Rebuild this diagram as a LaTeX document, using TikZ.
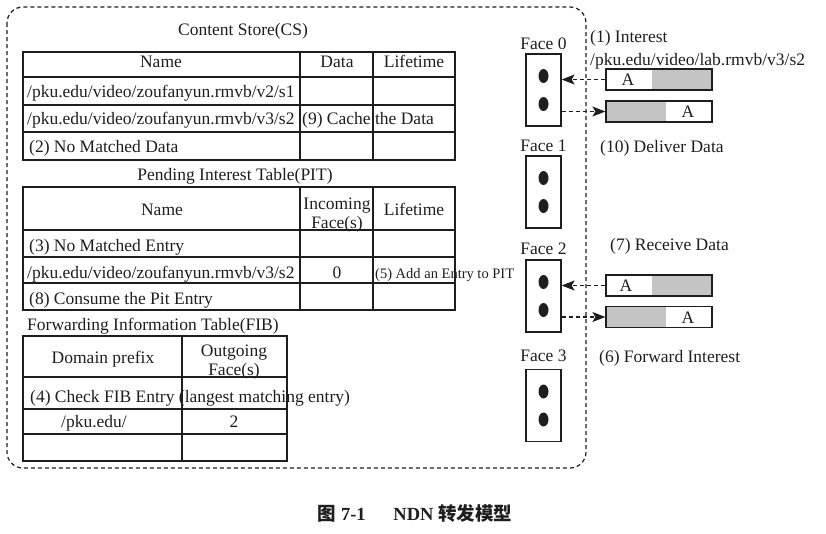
\documentclass[tikz,border=0pt]{standalone}
\usepackage{fontspec}
\setmainfont{Liberation Serif}
\newfontfamily\cjk{Noto Sans CJK SC}
\usetikzlibrary{positioning, shapes.geometric, arrows.meta}

\definecolor{ink}{HTML}{1E1E1E}
\definecolor{pktgray}{HTML}{C4C4C4}

\tikzset{
  tblline/.style={line width=1.2pt, draw=ink},
  txt/.style={anchor=base, inner sep=0pt, text=ink},
  txtl/.style={anchor=base west, inner sep=0pt, text=ink},
  facebox/.style={draw=ink, line width=1.2pt, minimum width=35pt, minimum height=72pt, inner sep=0pt},
  facedot/.style={ellipse, fill=ink, minimum width=10pt, minimum height=14pt, inner sep=0pt},
  pkt/.style={draw=ink, line width=1.2pt, minimum width=106pt, minimum height=21pt, inner sep=0pt},
  grayright/.style={path picture={\fill[pktgray] ([xshift=46pt]path picture bounding box.south west) rectangle (path picture bounding box.north east);}},
  grayleft/.style={path picture={\fill[pktgray] (path picture bounding box.south west) rectangle ([xshift=-46pt]path picture bounding box.north east);}},
  flow/.style={dashed, dash pattern=on 4pt off 3pt, line width=1.2pt, draw=ink, -{Stealth[length=13pt,width=10pt,inset=3pt]}}
}

\begin{document}
\begin{tikzpicture}[x=1pt, y=-1pt, font=\fontsize{17.5}{20}\selectfont]
\useasboundingbox (0,0) rectangle (826,533);

% the router, a dashed box
\draw[ink, line width=1.2pt, dash pattern=on 4pt off 3pt, rounded corners=16pt] (7,7) rectangle (586,468);

% the content store
\node[txt] (cstitle) at (243,35) {Content Store(CS)};
\draw[tblline] (23,52) rectangle (455,160);
\foreach \y in {77,105,132} \draw[tblline] (23,\y) -- (455,\y);
\foreach \x in {300,373} \draw[tblline] (\x,52) -- (\x,160);
\node[txt] (csname) at (161,67) {Name};
\node[txt] (csdata) at (337,67) {Data};
\node[txt] (cslife) at (414,67) {Lifetime};
\node[txtl] (cs1) at (27,97) {/pku.edu/video/zoufanyun.rmvb/v2/s1};
\node[txtl] (cs2) at (27,124) {/pku.edu/video/zoufanyun.rmvb/v3/s2};
\node[txtl] (cs9) at (302,124) {(9) Cache the Data};
\node[txtl] (cs3) at (29,152) {(2) No Matched Data};

% the pending interest table
\node[txt] (pittitle) at (235,180) {Pending Interest Table(PIT)};
\draw[tblline] (23,187) rectangle (455,310);
\foreach \y in {230,257,283} \draw[tblline] (23,\y) -- (455,\y);
\foreach \x in {300,373} \draw[tblline] (\x,187) -- (\x,310);
\node[txt] (pitname) at (162,215) {Name};
\node[txt, align=center] (pitin) at (337,228) {Incoming\\[-1pt]Face(s)};
\node[txt] (pitlife) at (414,215) {Lifetime};
\node[txtl] (pit1) at (29,251) {(3) No Matched Entry};
\node[txtl] (pit2) at (27,278) {/pku.edu/video/zoufanyun.rmvb/v3/s2};
\node[txt] (pit0) at (337,278) {0};
\node[txtl, font=\fontsize{14.5}{17}\selectfont] (pit5) at (375,278) {(5) Add an Entry to PIT};
\node[txtl] (pit3) at (29,304) {(8) Consume the Pit Entry};

% the forwarding information table
\node[txtl] (fibtitle) at (27,330) {Forwarding Information Table(FIB)};
\draw[tblline] (23,336) rectangle (287,461);
\foreach \y in {377,409,434} \draw[tblline] (23,\y) -- (287,\y);
\draw[tblline] (182,336) -- (182,461);
\node[txt] (fibname) at (103,363) {Domain prefix};
\node[txt, align=center] (fibout) at (234,375) {Outgoing\\[-1pt]Face(s)};
\node[txtl] (fib1) at (30,402) {(4) Check FIB Entry (langest matching entry)};
\node[txt] (fib2) at (94,427) {/pku.edu/};
\node[txt] (fib3) at (234,427) {2};

% the faces
\node[facebox] (fb0) at (543.5,90) {};
\node[facebox] (fb1) at (543.5,192) {};
\node[facebox] (fb2) at (543.5,296) {};
\node[facebox] (fb3) at (543.5,405.5) {};
\foreach \f/\g in {0/4, 1/4, 2/5, 3/7} {
  \node[txt, anchor=south, above=\g pt of fb\f] (fl\f) {Face \f};
  \node[facedot] (d\f a) at ([yshift=14pt]fb\f.center) {};
  \node[facedot] (d\f b) at ([yshift=-14pt]fb\f.center) {};
}

% the packets
\node[pkt, grayright] (pk00) at (659,79.5) {};
\node[pkt, grayleft] (pk01) at (659,111.5) {};
\node[pkt, grayright] (pk20) at (659,285.5) {};
\node[pkt, grayleft] (pk21) at (659,317) {};
\node[txt, anchor=center] (a00) at (628,80) {A};
\node[txt, anchor=center] (a01) at (688,112) {A};
\node[txt, anchor=center] (a20) at (626,286) {A};
\node[txt, anchor=center] (a21) at (688,317.5) {A};

% the dashed arrows
\draw[flow] (pk00.west) -- (fb0.east |- pk00.west);
\draw[flow] (fb0.east |- pk01.west) -- (pk01.west);
\draw[flow] (pk20.west) -- (fb2.east |- pk20.west);
\draw[flow] (fb2.east |- pk21.west) -- (pk21.west);

% the steps
\node[txtl] (s1) at (590,42) {(1) Interest};
\node[txtl] (s1b) at (590,65) {/pku.edu/video/lab.rmvb/v3/s2};
\node[txtl] (s10) at (600,152) {(10) Deliver Data};
\node[txtl] (s7) at (610,250) {(7) Receive Data};
\node[txtl] (s6) at (599,362) {(6) Forward Interest};

% the caption
\node[txt, font=\fontsize{18.5}{22}\selectfont] (cap) at (415,520) {{\cjk\bfseries 图} {\bfseries 7-1}\hspace{1.5em}{\bfseries NDN} {\cjk\bfseries 转发模型}};
\end{tikzpicture}
\end{document}
